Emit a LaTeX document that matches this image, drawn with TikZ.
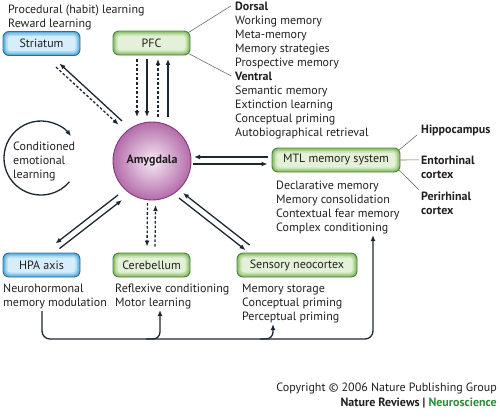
\documentclass[tikz,border=0pt]{standalone}
\usepackage{fontspec}
\setmainfont{PT Sans}
\usetikzlibrary{arrows.meta}
\definecolor{ink}{HTML}{1D2733}
\definecolor{txt}{HTML}{231F20}
\definecolor{thinc}{HTML}{6E6E6E}
\definecolor{bbord}{HTML}{2F6E94}
\definecolor{bA}{HTML}{5AAEE0}
\definecolor{bB}{HTML}{86C6EA}
\definecolor{bC}{HTML}{AFDAF3}
\definecolor{bD}{HTML}{D5EEFA}
\definecolor{gbord}{HTML}{4D7F3A}
\definecolor{gA}{HTML}{8CC06A}
\definecolor{gB}{HTML}{AAD28E}
\definecolor{gC}{HTML}{C7E2B2}
\definecolor{gD}{HTML}{E3F1D8}
\definecolor{amyin}{HTML}{F6EAF4}
\definecolor{amyout}{HTML}{B46CAA}
\definecolor{amybord}{HTML}{7E3A74}
\definecolor{nsgreen}{HTML}{2E8B3A}
\newcommand\glowlayers[3]{%
  \fill[#1, rounded corners=5pt] ([shift={(1.5pt,-1.5pt)}]path picture bounding box.north west) rectangle ([shift={(-1.5pt,1.5pt)}]path picture bounding box.south east);
  \fill[#2, rounded corners=4pt] ([shift={(3pt,-3pt)}]path picture bounding box.north west) rectangle ([shift={(-3pt,3pt)}]path picture bounding box.south east);
  \fill[#3, rounded corners=3pt] ([shift={(4.5pt,-4.5pt)}]path picture bounding box.north west) rectangle ([shift={(-4.5pt,4.5pt)}]path picture bounding box.south east);
}
\newcommand\txtfont{\fontsize{12}{14}\selectfont}
\tikzset{
  x=1pt, y=-1pt,
  lbl/.style={inner sep=0pt, anchor=base west, text=txt, font=\txtfont},
  blbl/.style={lbl, font=\txtfont\bfseries},
  rlbl/.style={lbl, anchor=base east},
  arr/.style={draw=ink, line width=1.3pt, -{Latex[length=6pt,width=4.8pt]}},
  darr/.style={arr, dash pattern=on 2.6pt off 2pt},
  thinl/.style={draw=thinc, line width=0.6pt},
  boxbase/.style={rounded corners=6pt, line width=0.9pt, minimum height=24pt, inner sep=0pt, text=txt, font=\txtfont},
  bluebox/.style={boxbase, draw=bbord, fill=bA, path picture={\glowlayers{bB}{bC}{bD}}},
  greenbox/.style={boxbase, draw=gbord, fill=gA, path picture={\glowlayers{gB}{gC}{gD}}},
}
\begin{document}
\begin{tikzpicture}
\useasboundingbox (0,0) rectangle (500,418);

% boxes
\node[bluebox, minimum width=77pt] (str) at (41.5,43.5) {Striatum};
\node[greenbox, minimum width=77pt] (pfc) at (151.5,43) {PFC};
\node[greenbox, minimum width=128pt] (mtl) at (336,160) {MTL memory system};
\node[bluebox, minimum width=77pt] (hpa) at (41.5,265) {HPA axis};
\node[greenbox, minimum width=77pt] (cb) at (151.5,265) {Cerebellum};
\node[greenbox, minimum width=120pt] (snc) at (297,265) {Sensory neocortex};
\node[circle, minimum size=78pt, inner sep=0pt, draw=amybord, line width=0.9pt,
      inner color=amyin, outer color=amyout, text=txt,
      font=\txtfont\bfseries] (amy) at (152,161) {Amygdala};

% top-left texts
\node[lbl] (proc) at (8,13) {Procedural (habit) learning};
\node[lbl] (rew) at (8,27) {Reward learning};

% PFC texts
\node[blbl] (dors) at (235,10) {Dorsal};
\foreach \t [count=\i] in {Working memory, Meta-memory, Memory strategies, Prospective memory}
  \node[lbl] (d\i) at (235,{10+14*\i}) {\t};
\node[blbl] (vent) at (235,80) {Ventral};
\foreach \t [count=\i] in {Semantic memory, Extinction learning, Conceptual priming, Autobiographical retrieval}
  \node[lbl] (v\i) at (235,{80+14*\i}) {\t};
\draw[thinl] ([shift={(-2,2)}]pfc.north east) -- ([xshift=-4pt]dors.west);
\draw[thinl] ([shift={(-2,-2)}]pfc.south east) -- ([xshift=-4pt]vent.west);

% MTL texts
\foreach \t [count=\i] in {Declarative memory, Memory consolidation, Contextual fear memory, Complex conditioning}
  \node[lbl] (m\i) at (276,{175+14*\i}) {\t};
\node[blbl] (hip) at (421,133) {Hippocampus};
\node[blbl] (ent) at (421,164) {Entorhinal};
\node[blbl] (ent2) at (421,178) {cortex};
\node[blbl] (peri) at (421,200) {Perirhinal};
\node[blbl] (peri2) at (421,214) {cortex};
\draw[thinl] ([shift={(-2,3)}]mtl.north east) -- ([shift={(-4,5)}]hip.west);
\draw[thinl] (mtl.east) -- ([xshift=-2pt]ent.west);
\draw[thinl] ([shift={(-2,-3)}]mtl.south east) -- ([shift={(-2,-6)}]peri.west);

% conditioned emotional learning
\node[lbl] (cel1) at (13,150) {Conditioned};
\node[lbl] (cel2) at (13,164) {emotional};
\node[lbl] (cel3) at (13,178) {learning};
\coordinate (celstart) at ({41+37*cos(40)},{158+37*sin(40)});
\draw[arr] (celstart) arc[start angle=40, end angle=324, radius=37];

% lower texts
\node[lbl] (h1) at (3,292) {Neurohormonal};
\node[lbl] (h2) at (3,306) {memory modulation};
\node[lbl] (c1) at (115,292) {Reflexive conditioning};
\node[lbl] (c2) at (115,306) {Motor learning};
\node[lbl] (s1) at (242,292) {Memory storage};
\node[lbl] (s2) at (242,306) {Conceptual priming};
\node[lbl] (s3) at (242,320) {Perceptual priming};

% amygdala <-> striatum
\draw[arr] ([shift={(-30,-40)}]amy.center) -- ([shift={(-21,7.5)}]str.south east);
\draw[darr] ([shift={(-24.4,11.2)}]str.south east) -- ([shift={(-33.4,-36.3)}]amy.center);

% amygdala <-> PFC
\draw[darr] ([shift={(-14.5,3.5)}]pfc.south) -- ([shift={(-14.5,117)}]pfc.south |- 0,0);
\draw[arr]  ([shift={(-4.5,3.5)}]pfc.south) -- ([shift={(-4.5,117)}]pfc.south |- 0,0);
\draw[darr] ([shift={(6.5,117)}]pfc.south |- 0,0) -- ([shift={(6.5,3.5)}]pfc.south);
\draw[arr]  ([shift={(16.5,117)}]pfc.south |- 0,0) -- ([shift={(16.5,3.5)}]pfc.south);

% amygdala <-> MTL
\draw[arr] ([shift={(-4,-3)}]mtl.west) -- ([shift={(42,-4)}]amy.center);
\draw[arr] ([shift={(41,3)}]amy.center) -- ([shift={(-4,4)}]mtl.west);

% amygdala <-> HPA
\draw[arr] ([shift={(-34,34)}]amy.center) -- ([shift={(-25,-9)}]hpa.north east);
\draw[arr] ([shift={(-21,-4)}]hpa.north east) -- ([shift={(-30,39)}]amy.center);

% amygdala <-> cerebellum
\draw[darr] ([shift={(-4.5,42)}]amy.center) -- ([shift={(-4.5,-6)}]cb.north);
\draw[darr] ([shift={(3.5,-6)}]cb.north) -- ([shift={(3.5,44)}]amy.center);

% amygdala <-> sensory neocortex
\draw[arr] ([shift={(13,-7.5)}]snc.north west) -- ([shift={(31,32)}]amy.center);
\draw[arr] ([shift={(27,37)}]amy.center) -- ([shift={(9,-2.5)}]snc.north west);

% bottom bus
\coordinate (busa) at (42,311);
\coordinate (busb) at (373,339);
\coordinate (mtltip) at (373,235);
\coordinate (br1) at (146,339);
\coordinate (cbtip) at (160,310);
\coordinate (br2) at (260,339);
\coordinate (snctip) at (273,324);
\draw[arr, rounded corners=8pt] (busa) |- (busb) -- (mtltip);
\draw[arr, rounded corners=7pt] (br1) -| (cbtip);
\draw[arr, rounded corners=7pt] (br2) -| (snctip);

% copyright
\node[rlbl] (copy) at (497,391) {Copyright \textcopyright{} 2006 Nature Publishing Group};
\node[rlbl, font=\txtfont\bfseries] (nrn) at (497,406) {Nature Reviews | \textcolor{nsgreen}{Neuroscience}};
\end{tikzpicture}
\end{document}
